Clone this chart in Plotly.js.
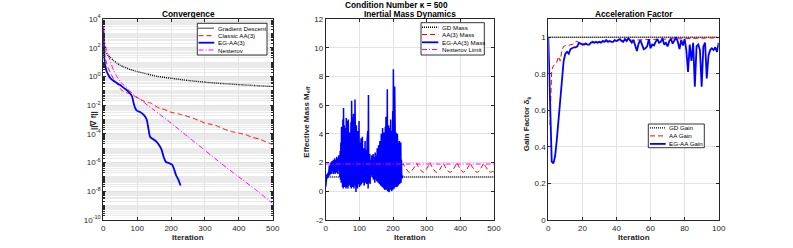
<!DOCTYPE html>
<html><head><meta charset="utf-8">
<script src="https://cdn.plot.ly/plotly-3.0.1.min.js"></script>
<style>html,body{margin:0;padding:0;background:#fff;overflow:hidden}#chart{width:793px;height:248px}</style>
</head><body><div id="chart"></div>
<script>
// ---------- Panel 1: Convergence (||grad f|| vs iteration) ----------
const convGDIter = [0,1,2,4,7,10,15,20,30,40,50,60,80,100,130,160,200,250,300,350,400,450,500];
const convGDVal  = [2.5e3,4e2,1.6e2,80,50,38,28,22,13,8.5,6.0,4.7,3.0,2.2,1.45,1.0,0.75,0.52,0.4,0.32,0.27,0.23,0.2];

const convAAIter = [0,1,2,4,6,10,15,20,30,40,50,60,70,80,90,100,110,120,130,140,150,160,170,180,190,200,210,220,230,240,250,260,270,280,290,300,310,320,330,340,350,360,370,380,390,400,410,420,430,440,450,460,470,480,490,500];
const convAAVal  = [2.5e3,4e2,1.26e2,40,20,8,3.5,2.0,0.7,0.32,0.14,0.089,0.071,0.063,0.045,0.032,0.025,0.019,0.016,0.014,0.01,0.0071,0.0056,0.005,0.004,0.0032,0.0028,0.0025,0.0022,0.0019,0.0016,0.0014,0.0011,8.9e-4,7.1e-4,5.6e-4,5.0e-4,4.5e-4,4.0e-4,3.2e-4,2.5e-4,2.0e-4,1.66e-4,1.41e-4,1.26e-4,1.12e-4,1.0e-4,8.9e-5,7.1e-5,5.6e-5,5.0e-5,4.5e-5,3.5e-5,2.8e-5,2.2e-5,1.8e-5];

const convEGIter = [0,1,2,4,7,10,15,20,30,40,50,60,70,80,85,90,95,100,110,120,128,133,138,145,155,165,172,178,185,195,203,208,215,222,228];
const convEGVal  = [3.2e3,2e2,40,10,4,2.2,1.26,0.8,0.5,0.35,0.25,0.16,0.11,0.063,0.04,0.0126,5.6e-3,4e-3,3.2e-3,2e-3,1e-3,2.5e-4,6.3e-5,4.5e-5,3.2e-5,1.6e-5,7.9e-6,2.5e-6,1.1e-6,8.9e-7,7.1e-7,4e-7,1.26e-7,6.3e-8,2.5e-8];

const convNesIter = [0,2,4,8,15,20,30,40,50,60,80,100,150,200,250,300,350,400,450,500];
const convNesVal  = [3.2e3,6.3e2,2.5e2,1e2,28,12.6,2.8,1.0,0.45,0.25,0.089,0.035,4.5e-3,5.6e-4,6.3e-5,7.1e-6,7.9e-7,1e-7,1.26e-8,1.4e-9];

const convNames = ['Gradient Descent','Classic AA(3)','EG-AA(3)','Nesterov'];
const logTickExp = [-10,-8,-6,-4,-2,0,2,4];

// ---------- Panel 2: Inertial mass dynamics ----------
const massGDIter = [0,500];
const massGDVal  = [1,1];
const massNesIter = [0,500];
const massNesVal  = [1.9,1.9];
const massAAStep = 5; // AA(3) mass sampled every 5 iterations
const massAAVal = [1.0,1.1,1.2,1.35,1.5,1.7,1.9,1.78,1.57,1.42,1.33,1.39,1.51,1.72,1.93,1.76,1.54,1.4,1.32,1.38,1.5,1.73,1.95,1.77,1.56,1.41,1.33,1.37,1.49,1.7,1.94,1.76,1.55,1.38,1.31,1.4,1.52,1.74,1.96,1.72,1.5,1.37,1.33,1.42,1.56,1.78,1.93,1.7,1.5,1.37,1.31,1.4,1.56,1.77,1.95,1.72,1.52,1.39,1.32,1.41,1.57,1.78,2.0,1.74,1.52,1.38,1.31,1.4,1.55,1.76,1.94,1.7,1.5,1.37,1.32,1.4,1.57,1.78,2.0,1.73,1.51,1.38,1.32,1.41,1.56,1.77,1.95,1.72,1.5,1.38,1.31,1.4,1.57,1.77,1.96,1.72,1.5,1.38,1.32,1.37,1.35];
const massEGVal = [
 0.3,0.6,0.9,1.0,1.2,0.9,1.1,1.3,1.0,1.4,
 1.2,1.8,1.1,1.6,1.3,2.0,1.2,1.7,1.3,2.1,
 1.4,1.9,1.2,2.2,1.3,1.8,1.5,2.3,1.2,2.0,
 1.6,2.2,1.3,2.4,1.5,2.0,1.2,2.3,1.6,2.5,
 1.3,2.2,1.0,2.8,0.8,3.4,0.6,4.5,0.5,4.0,
 0.3,5.0,0.2,5.8,0.4,4.6,0.3,3.9,0.6,4.4,
 0.2,5.1,0.3,4.2,0.6,4.9,0.2,5.0,0.5,3.8,
 0.4,4.1,0.7,3.6,0.3,4.8,0.2,6.3,0.5,5.5,
 0.3,4.6,0.6,5.4,0.2,3.9,0.4,6.4,0.3,5.1,
 -0.05,4.6,0.4,3.8,0.2,4.2,0.6,3.6,0.5,4.9,
 0.3,4.1,0.7,3.4,0.4,3.7,0.5,3.2,0.8,3.8,
 0.6,3.3,0.9,3.0,0.4,2.8,0.7,3.5,0.6,3.1,
 0.8,2.9,0.5,3.6,0.3,4.2,0.2,6.7,0.6,3.5,
 1.0,2.6,0.5,2.2,1.1,2.0,1.3,2.5,1.0,2.2,
 1.2,2.6,0.8,2.1,1.1,2.4,0.6,2.7,0.9,2.3,
 1.0,2.8,0.7,3.0,0.9,2.6,0.6,3.2,0.8,2.9,
 0.5,3.5,0.7,3.1,0.4,4.0,0.6,3.4,0.3,4.4,
 0.5,3.7,0.2,4.1,0.4,3.3,0.1,4.5,0.3,5.2,
 0.1,3.8,0.3,7.1,0.0,3.5,0.2,4.6,-0.05,3.9,
 0.2,4.4,0.1,5.0,0.3,3.8,0.0,4.2,0.2,5.6,
 0.1,8.5,0.3,4.9,0.2,7.3,0.4,4.5,0.3,4.1,
 0.5,3.7,0.3,4.0,0.6,3.5,0.4,3.2,0.7,3.5,
 0.5,3.0,0.8,3.4,0.6,2.2,0.9,1.2,1.0,1.1];
const massNames = ['GD Mass','AA(3) Mass','EG-AA(3) Mass','Nesterov Limit'];

// ---------- Panel 3: Acceleration factor ----------
const gainGDIter = [0,100];
const gainGDVal  = [1,1];
const gainAAStart = 1;
const gainAAVal = [0.52,0.82,0.845,0.85,0.865,0.895,0.87,0.93,0.95,0.955,
 0.955,0.955,0.96,0.96,0.965,0.975,0.978,0.965,0.962,0.965,
 0.965,0.968,0.966,0.97,0.972,0.97,0.973,0.975,0.973,0.975,
 0.976,0.975,0.977,0.978,0.977,0.979,0.978,0.98,0.979,0.98,
 0.981,0.98,0.982,0.981,0.983,0.982,0.984,0.983,0.984,0.985,
 0.984,0.985,0.986,0.985,0.986,0.987,0.986,0.987,0.988,0.987,
 0.988,0.988,0.989,0.988,0.989,0.99,0.989,0.99,0.99,0.991,
 0.99,0.991,0.991,0.992,0.991,0.992,0.992,0.993,0.992,0.993,
 0.993,0.993,0.994,0.993,0.994,0.994,0.994,0.995,0.994,0.995,
 0.995,0.995,0.995,0.996,0.995,0.996,0.996,0.996,0.996,0.997];
const gainEGVal = [1.0,0.62,0.32,0.31,0.35,0.44,0.55,0.66,0.78,0.87,
 0.91,0.92,0.91,0.935,0.94,0.945,0.945,0.95,0.97,0.965,
 0.96,0.96,0.965,0.96,0.96,0.97,0.975,0.97,0.975,0.97,
 0.975,0.97,0.98,0.975,0.985,0.975,0.98,0.975,0.975,0.985,
 0.98,0.985,0.99,0.98,0.975,0.99,0.98,0.995,0.985,0.97,
 0.985,0.95,0.925,0.965,0.985,0.96,0.935,0.94,0.95,0.99,
 0.94,0.96,0.955,0.975,0.99,0.97,0.975,0.995,0.96,0.97,
 0.95,0.98,0.99,0.965,0.985,1.0,0.975,0.935,0.985,0.955,
 0.99,0.93,0.81,0.96,0.87,0.97,0.73,0.95,0.96,0.93,
 0.73,0.95,0.97,0.775,0.9,0.93,0.94,0.93,0.945,0.92,0.97];
const gainNames = ['GD Gain','AA Gain','EG-AA Gain'];

// ---------- helpers ----------
const W = 793, H = 248;
const FONT = 'Liberation Sans, Arial, Helvetica, sans-serif';
const AX = '#262626';
const fx = p => p / W;
const fy = p => 1 - p / H;

const S = {
  gd:  {color:'#000000', width:1.4, dash:'1px,1px'},
  aa:  {color:'#ff0000', width:1.0, dash:'5px,3px'},
  eg:  {color:'#0000ff', width:1.8, dash:'solid'},
  nes: {color:'#ff00ff', width:1.0, dash:'5px,2px,1px,2px'}
};

function tr(x, y, st, xa, ya, shape) {
  const line = {color:st.color, width:st.width, dash:st.dash};
  if (shape) { line.shape = 'spline'; line.smoothing = 0.5; }
  return {x, y, type:'scatter', mode:'lines', xaxis:xa, yaxis:ya, line, showlegend:false, hoverinfo:'skip'};
}

const range = (n, start, step) => Array.from({length:n}, (_, i) => start + i * step);

const traces = [
  tr(convGDIter, convGDVal, S.gd, 'x', 'y', true),
  tr(convAAIter, convAAVal, S.aa, 'x', 'y', true),
  tr(convEGIter, convEGVal, S.eg, 'x', 'y', true),
  tr(convNesIter, convNesVal, S.nes, 'x', 'y', true),

  tr(massGDIter, massGDVal, S.gd, 'x2', 'y2'),
  tr(range(massAAVal.length, 0, massAAStep), massAAVal, S.aa, 'x2', 'y2'),
  tr(range(massEGVal.length, 0, 1), massEGVal, {color:'#0000ff', width:1.5, dash:'solid'}, 'x2', 'y2'),
  tr(massNesIter, massNesVal, S.nes, 'x2', 'y2'),

  tr(gainGDIter, gainGDVal, S.gd, 'x3', 'y3'),
  tr(range(gainAAVal.length, gainAAStart, 1), gainAAVal, S.aa, 'x3', 'y3'),
  tr(range(gainEGVal.length, 0, 1), gainEGVal, S.eg, 'x3', 'y3')
];

const yDom = [fy(220), fy(19)];
function xAxis(dom, rng, vals, anchor) {
  return {domain:[fx(dom[0]), fx(dom[1])], range:rng, tickvals:vals, anchor,
    showgrid:true, gridcolor:'#e3e3e3', gridwidth:1, zeroline:false,
    showline:true, linecolor:AX, linewidth:1, mirror:'ticks', ticks:'inside', ticklen:3,
    tickcolor:AX, tickfont:{family:FONT, size:8, color:AX}, fixedrange:true};
}
function yAxis(rng, vals, texts, anchor, extra) {
  return Object.assign({domain:yDom, range:rng, tickvals:vals, ticktext:texts, anchor,
    showgrid:true, gridcolor:'#e3e3e3', gridwidth:1, zeroline:false,
    showline:true, linecolor:AX, linewidth:1, mirror:'ticks', ticks:'inside', ticklen:3,
    tickcolor:AX, tickfont:{family:FONT, size:8, color:AX}, fixedrange:true}, extra || {});
}

const minorLog = [];
for (let e = -10; e < 4; e++) for (let k = 1; k <= 9; k++) minorLog.push(k * Math.pow(10, e));

const P1 = [103.3, 272.7], P2 = [325.7, 494.0], P3 = [548.3, 718.7];

const layout = {
  width:W, height:H, margin:{l:0,r:0,t:0,b:0}, paper_bgcolor:'#fff', plot_bgcolor:'#fff',
  showlegend:false, font:{family:FONT, color:AX},
  xaxis: xAxis(P1, [0,500], [0,100,200,300,400,500], 'y'),
  yaxis: yAxis([-10,4], logTickExp.map(e => Math.pow(10, e)), logTickExp.map(e => '10<sup>' + e + '</sup>'), 'x',
    {type:'log', minor:{tickvals:minorLog, showgrid:true, gridcolor:'#eaeaea', gridwidth:1, ticks:'inside', ticklen:1.5, tickcolor:AX}}),
  xaxis2: xAxis(P2, [0,500], [0,100,200,300,400,500], 'y2'),
  yaxis2: yAxis([-2,12], [-2,0,2,4,6,8,10,12], ['-2','0','2','4','6','8','10','12'], 'x2'),
  xaxis3: xAxis(P3, [0,100], [0,20,40,60,80,100], 'y3'),
  yaxis3: yAxis([0,1.1], [0,0.2,0.4,0.6,0.8,1], ['0','0.2','0.4','0.6','0.8','1'], 'x3'),
  shapes: [], annotations: []
};

function txt(text, x, y, opts) {
  layout.annotations.push(Object.assign({text, x:fx(x), y:fy(y), xref:'paper', yref:'paper',
    showarrow:false, xanchor:'center', yanchor:'middle',
    font:{family:FONT, size:8, color:'#000'}}, opts || {}));
}

// titles
txt('<b>Condition Number κ = 500</b>', 396, 4.8, {font:{family:FONT, size:8.3, color:'#000'}});
txt('<b>Convergence</b>', (P1[0]+P1[1])/2, 13.8, {font:{family:FONT, size:8.3, color:'#000'}});
txt('<b>Inertial Mass Dynamics</b>', (P2[0]+P2[1])/2, 14.2, {font:{family:FONT, size:8.3, color:'#000'}});
txt('<b>Acceleration Factor</b>', (P3[0]+P3[1])/2, 13.8, {font:{family:FONT, size:8.3, color:'#000'}});
// axis labels
[P1, P2, P3].forEach(p => txt('<b>Iteration</b>', (p[0]+p[1])/2, 237, {font:{family:FONT, size:8, color:AX}}));
txt('<b>||∇ f||</b>', 93, 121, {textangle:-90, font:{family:FONT, size:8, color:AX}});
txt('<b>Effective Mass M<sub>eff</sub></b>', 306.7, 122, {textangle:-90, font:{family:FONT, size:8, color:AX}});
txt('<b>Gain Factor δ<sub>k</sub></b>', 527.3, 123, {textangle:-90, font:{family:FONT, size:8, color:AX}});

// legends (drawn as boxes with line samples and text)
function legend(names, styles, box, rows, lineX, textX) {
  layout.shapes.push({type:'rect', xref:'paper', yref:'paper', x0:fx(box[0]), x1:fx(box[1]), y0:fy(box[3]), y1:fy(box[2]),
    line:{color:'#000', width:0.8}, fillcolor:'#fff', layer:'above'});
  names.forEach((n, i) => {
    const st = styles[i];
    layout.shapes.push({type:'line', xref:'paper', yref:'paper', x0:fx(lineX[0]), x1:fx(lineX[1]), y0:fy(rows[i]), y1:fy(rows[i]),
      line:{color:st.color, width:st.width, dash:st.dash}, layer:'above'});
    txt(n, textX, rows[i], {xanchor:'left', font:{family:FONT, size:6.2, color:'#000'}});
  });
}
legend(convNames, [S.gd, S.aa, S.eg, S.nes], [197.3, 267.0, 23.3, 55.0], [28.3, 35.7, 42.7, 50.0], [198.5, 214.3], 216);
legend(massNames, [S.gd, S.aa, S.eg, S.nes], [421.0, 484.3, 22.7, 55.0], [27.3, 34.5, 42.3, 49.5], [422.0, 438.3], 440);
legend(gainNames, [S.gd, S.aa, S.eg], [648.3, 704.3, 124.0, 147.7], [127.9, 135.9, 143.9], [650.0, 665.7], 667);

Plotly.newPlot('chart', traces, layout, {staticPlot:true, displayModeBar:false});
</script></body></html>
